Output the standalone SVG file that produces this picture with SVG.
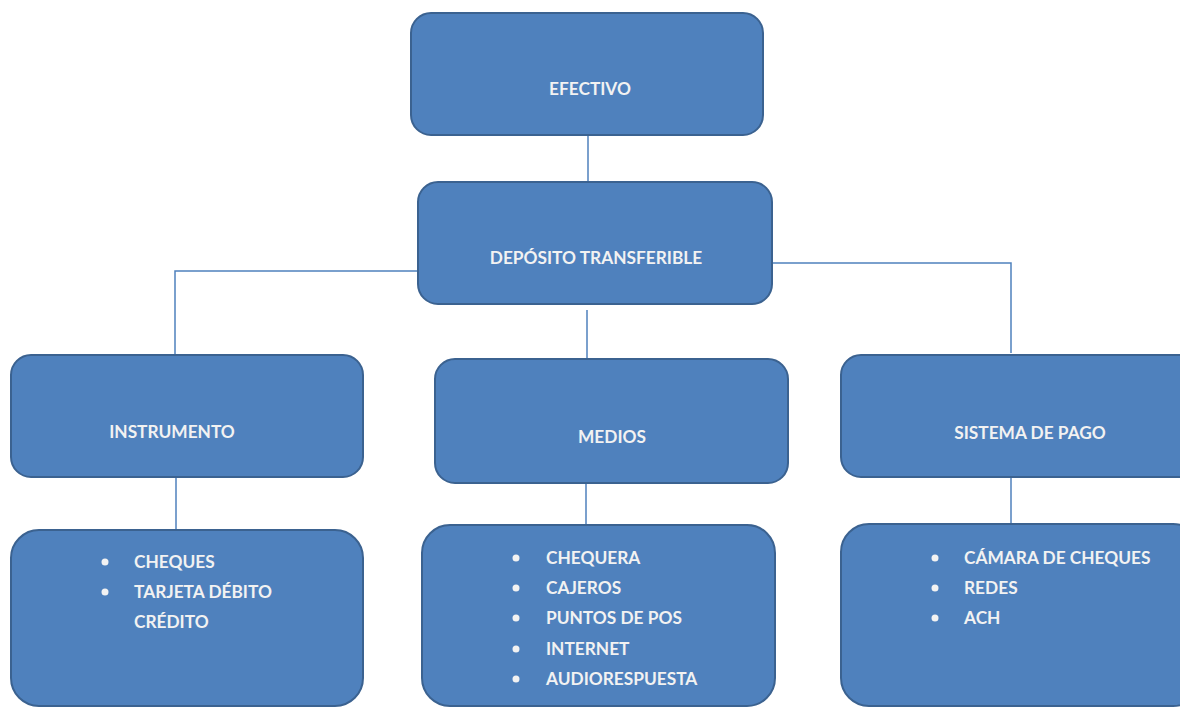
<svg xmlns="http://www.w3.org/2000/svg" width="1180" height="708" viewBox="0 0 1180 708">
<style>
.box{fill:#4F81BD;stroke:#3B6290;stroke-width:2}
.lbl{font-family:Lato,"Liberation Sans",Arial,sans-serif;font-weight:700;font-size:17.3px;fill:#F2F2F2;text-anchor:middle}
.itm{font-family:Lato,"Liberation Sans",Arial,sans-serif;font-weight:700;font-size:17.3px;fill:#F2F2F2}
.bul{fill:#F2F2F2}
.con{stroke:#4F81BD;stroke-width:1.5;fill:none}
</style>
<rect width="1180" height="708" fill="#FFFFFF"/>
<g id="connectors">
<path class="con" d="M588 135V182"/>
<path class="con" d="M418 271H175V355"/>
<path class="con" d="M772 263H1011V353"/>
<path class="con" d="M587 310V358"/>
<path class="con" d="M176 477V530"/>
<path class="con" d="M586 483V525"/>
<path class="con" d="M1011 477V524"/>
</g>
<g id="efectivo">
<rect class="box" x="411" y="13" width="352" height="122" rx="20"/>
<text class="lbl" x="590" y="95">EFECTIVO</text>
</g>
<g id="deposito">
<rect class="box" x="418" y="182" width="354" height="122" rx="20"/>
<text class="lbl" x="596" y="264">DEPÓSITO TRANSFERIBLE</text>
</g>
<g id="instrumento">
<rect class="box" x="11" y="355" width="352" height="122" rx="20"/>
<text class="lbl" x="172" y="438">INSTRUMENTO</text>
</g>
<g id="medios">
<rect class="box" x="435" y="359" width="353" height="124" rx="20"/>
<text class="lbl" x="612" y="443">MEDIOS</text>
</g>
<g id="sistema">
<rect class="box" x="841" y="355" width="360" height="122" rx="20"/>
<text class="lbl" x="1030" y="439">SISTEMA DE PAGO</text>
</g>
<g id="instrumento-items">
<rect class="box" x="11" y="530" width="352" height="176" rx="28"/>
<circle class="bul" cx="105" cy="562" r="3.5"/>
<circle class="bul" cx="105" cy="592" r="3.5"/>
<text class="itm" x="134" y="568">CHEQUES</text>
<text class="itm" x="134" y="598">TARJETA DÉBITO</text>
<text class="itm" x="134" y="628">CRÉDITO</text>
</g>
<g id="medios-items">
<rect class="box" x="422" y="525" width="353" height="181" rx="28"/>
<circle class="bul" cx="516" cy="558" r="3.5"/>
<circle class="bul" cx="516" cy="588" r="3.5"/>
<circle class="bul" cx="516" cy="618" r="3.5"/>
<circle class="bul" cx="516" cy="649" r="3.5"/>
<circle class="bul" cx="516" cy="679" r="3.5"/>
<text class="itm" x="546" y="564">CHEQUERA</text>
<text class="itm" x="546" y="594">CAJEROS</text>
<text class="itm" x="546" y="624">PUNTOS DE POS</text>
<text class="itm" x="546" y="655">INTERNET</text>
<text class="itm" x="546" y="685">AUDIORESPUESTA</text>
</g>
<g id="sistema-items">
<rect class="box" x="841" y="524" width="360" height="182" rx="28"/>
<circle class="bul" cx="935" cy="558" r="3.5"/>
<circle class="bul" cx="935" cy="588" r="3.5"/>
<circle class="bul" cx="935" cy="618" r="3.5"/>
<text class="itm" x="964" y="564">CÁMARA DE CHEQUES</text>
<text class="itm" x="964" y="594">REDES</text>
<text class="itm" x="964" y="624">ACH</text>
</g>
</svg>
